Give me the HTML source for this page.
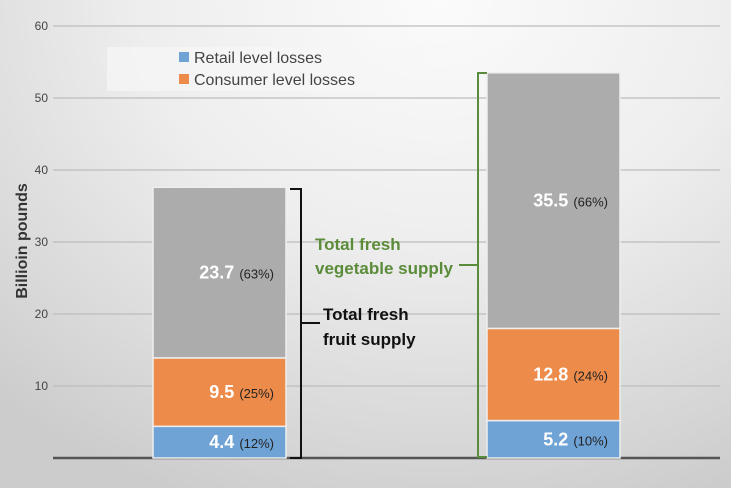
<!DOCTYPE html>
<html><head><meta charset="utf-8"><style>
html,body{margin:0;padding:0;}
body{width:731px;height:488px;overflow:hidden;background:radial-gradient(ellipse 90% 110% at 60% 0%,#fbfbfb 0%,#eeeeee 45%,#d6d6d6 85%,#cccccc 100%);font-family:"Liberation Sans Narrow","Liberation Sans",sans-serif;}
svg{display:block}
</style></head><body>
<svg id="chart" width="731" height="488">
<rect x="107" y="47" width="317" height="44" fill="#f6f6f6" opacity="0.7"/>
<g id="grid"></g>
<g id="bars"></g>
<g id="labels"></g>
<text x="0" y="0" transform="translate(27,241) rotate(-90)" text-anchor="middle" font-size="16" font-weight="bold" fill="#333">Billioin pounds</text>
<g>
<rect x="179" y="52" width="10" height="10" fill="#6fa3d6"/>
<text x="194" y="63" font-size="16" fill="#444">Retail level losses</text>
<rect x="179" y="74" width="10" height="10" fill="#ec8b4a"/>
<text x="194" y="85" font-size="16" fill="#444">Consumer level losses</text>
</g>
<g stroke="#111" stroke-width="2" fill="none">
<path d="M290 189 H301 V458 H290"/><path d="M301 323 H320"/>
</g>
<text x="323" y="320" font-size="17" font-weight="bold" fill="#111">Total fresh</text>
<text x="323" y="345" font-size="17" font-weight="bold" fill="#111">fruit supply</text>
<g stroke="#5b8c3a" stroke-width="2" fill="none">
<path d="M487 73 H478 V457 H487"/><path d="M478 265 H459"/>
</g>
<text x="315" y="250" font-size="17" font-weight="bold" fill="#5b8c3a">Total fresh</text>
<text x="315" y="274" font-size="17" font-weight="bold" fill="#5b8c3a">vegetable supply</text>
</svg>
<script>
const categories=["Fruit","Vegetables"];
const retail=[4.4,5.2];
const consumer=[9.5,12.8];
const remaining=[23.7,35.5];
const retailPct=["12%","10%"];
const consumerPct=["25%","24%"];
const remainingPct=["63%","66%"];
const yTicks=[10,20,30,40,50,60];
const NS="http://www.w3.org/2000/svg";
const y0=458,ppu=7.2,x0=53,x1=720;
const yS=v=>y0-v*ppu;
const barX=[153,487],barW=133;
const grid=document.getElementById('grid'),bars=document.getElementById('bars'),labels=document.getElementById('labels');
function mk(t,a,p){const e=document.createElementNS(NS,t);for(const k in a)e.setAttribute(k,a[k]);p.appendChild(e);return e;}
yTicks.forEach(v=>{
 const l=mk('line',{x1:x0,x2:x1,y1:yS(v),y2:yS(v),stroke:'#bdbdbd','stroke-width':1.2},grid);
 
 
 const t=mk('text',{x:48,y:yS(v)+4,'text-anchor':'end','font-size':12,fill:'#444'},grid);
 t.textContent=v;
 
 
});
const ax=mk('line',{x1:x0,x2:x1,y1:y0,y2:y0,stroke:'#555','stroke-width':2.5},grid);


const series=[[retail,'#6fa3d6',retailPct,'retail'],[consumer,'#ec8b4a',consumerPct,'consumer'],[remaining,'#acacac',remainingPct,'remaining']];
categories.forEach((c,i)=>{
 let base=0;
 series.forEach(([vals,col,pct,nm])=>{
  const v=vals[i],top=base+v;
  const r=mk('rect',{x:barX[i],y:yS(top),width:barW,height:yS(base)-yS(top),fill:col,stroke:'#eee','stroke-width':1.5},bars);
  
  
  const ym=(yS(base)+yS(top))/2+6;
  const t=mk('text',{x:barX[i]+barW-12,y:ym,'text-anchor':'end',fill:'#fff','font-size':18,'font-weight':'bold'},labels);
  const s1=mk('tspan',{},t);s1.textContent=v.toFixed(1)+' ';
  const s2=mk('tspan',{'font-size':13,'font-weight':'normal',fill:'#222'},t);s2.textContent='('+pct[i]+')';
  
  
  base=top;
 });
});
</script>
</body></html>
